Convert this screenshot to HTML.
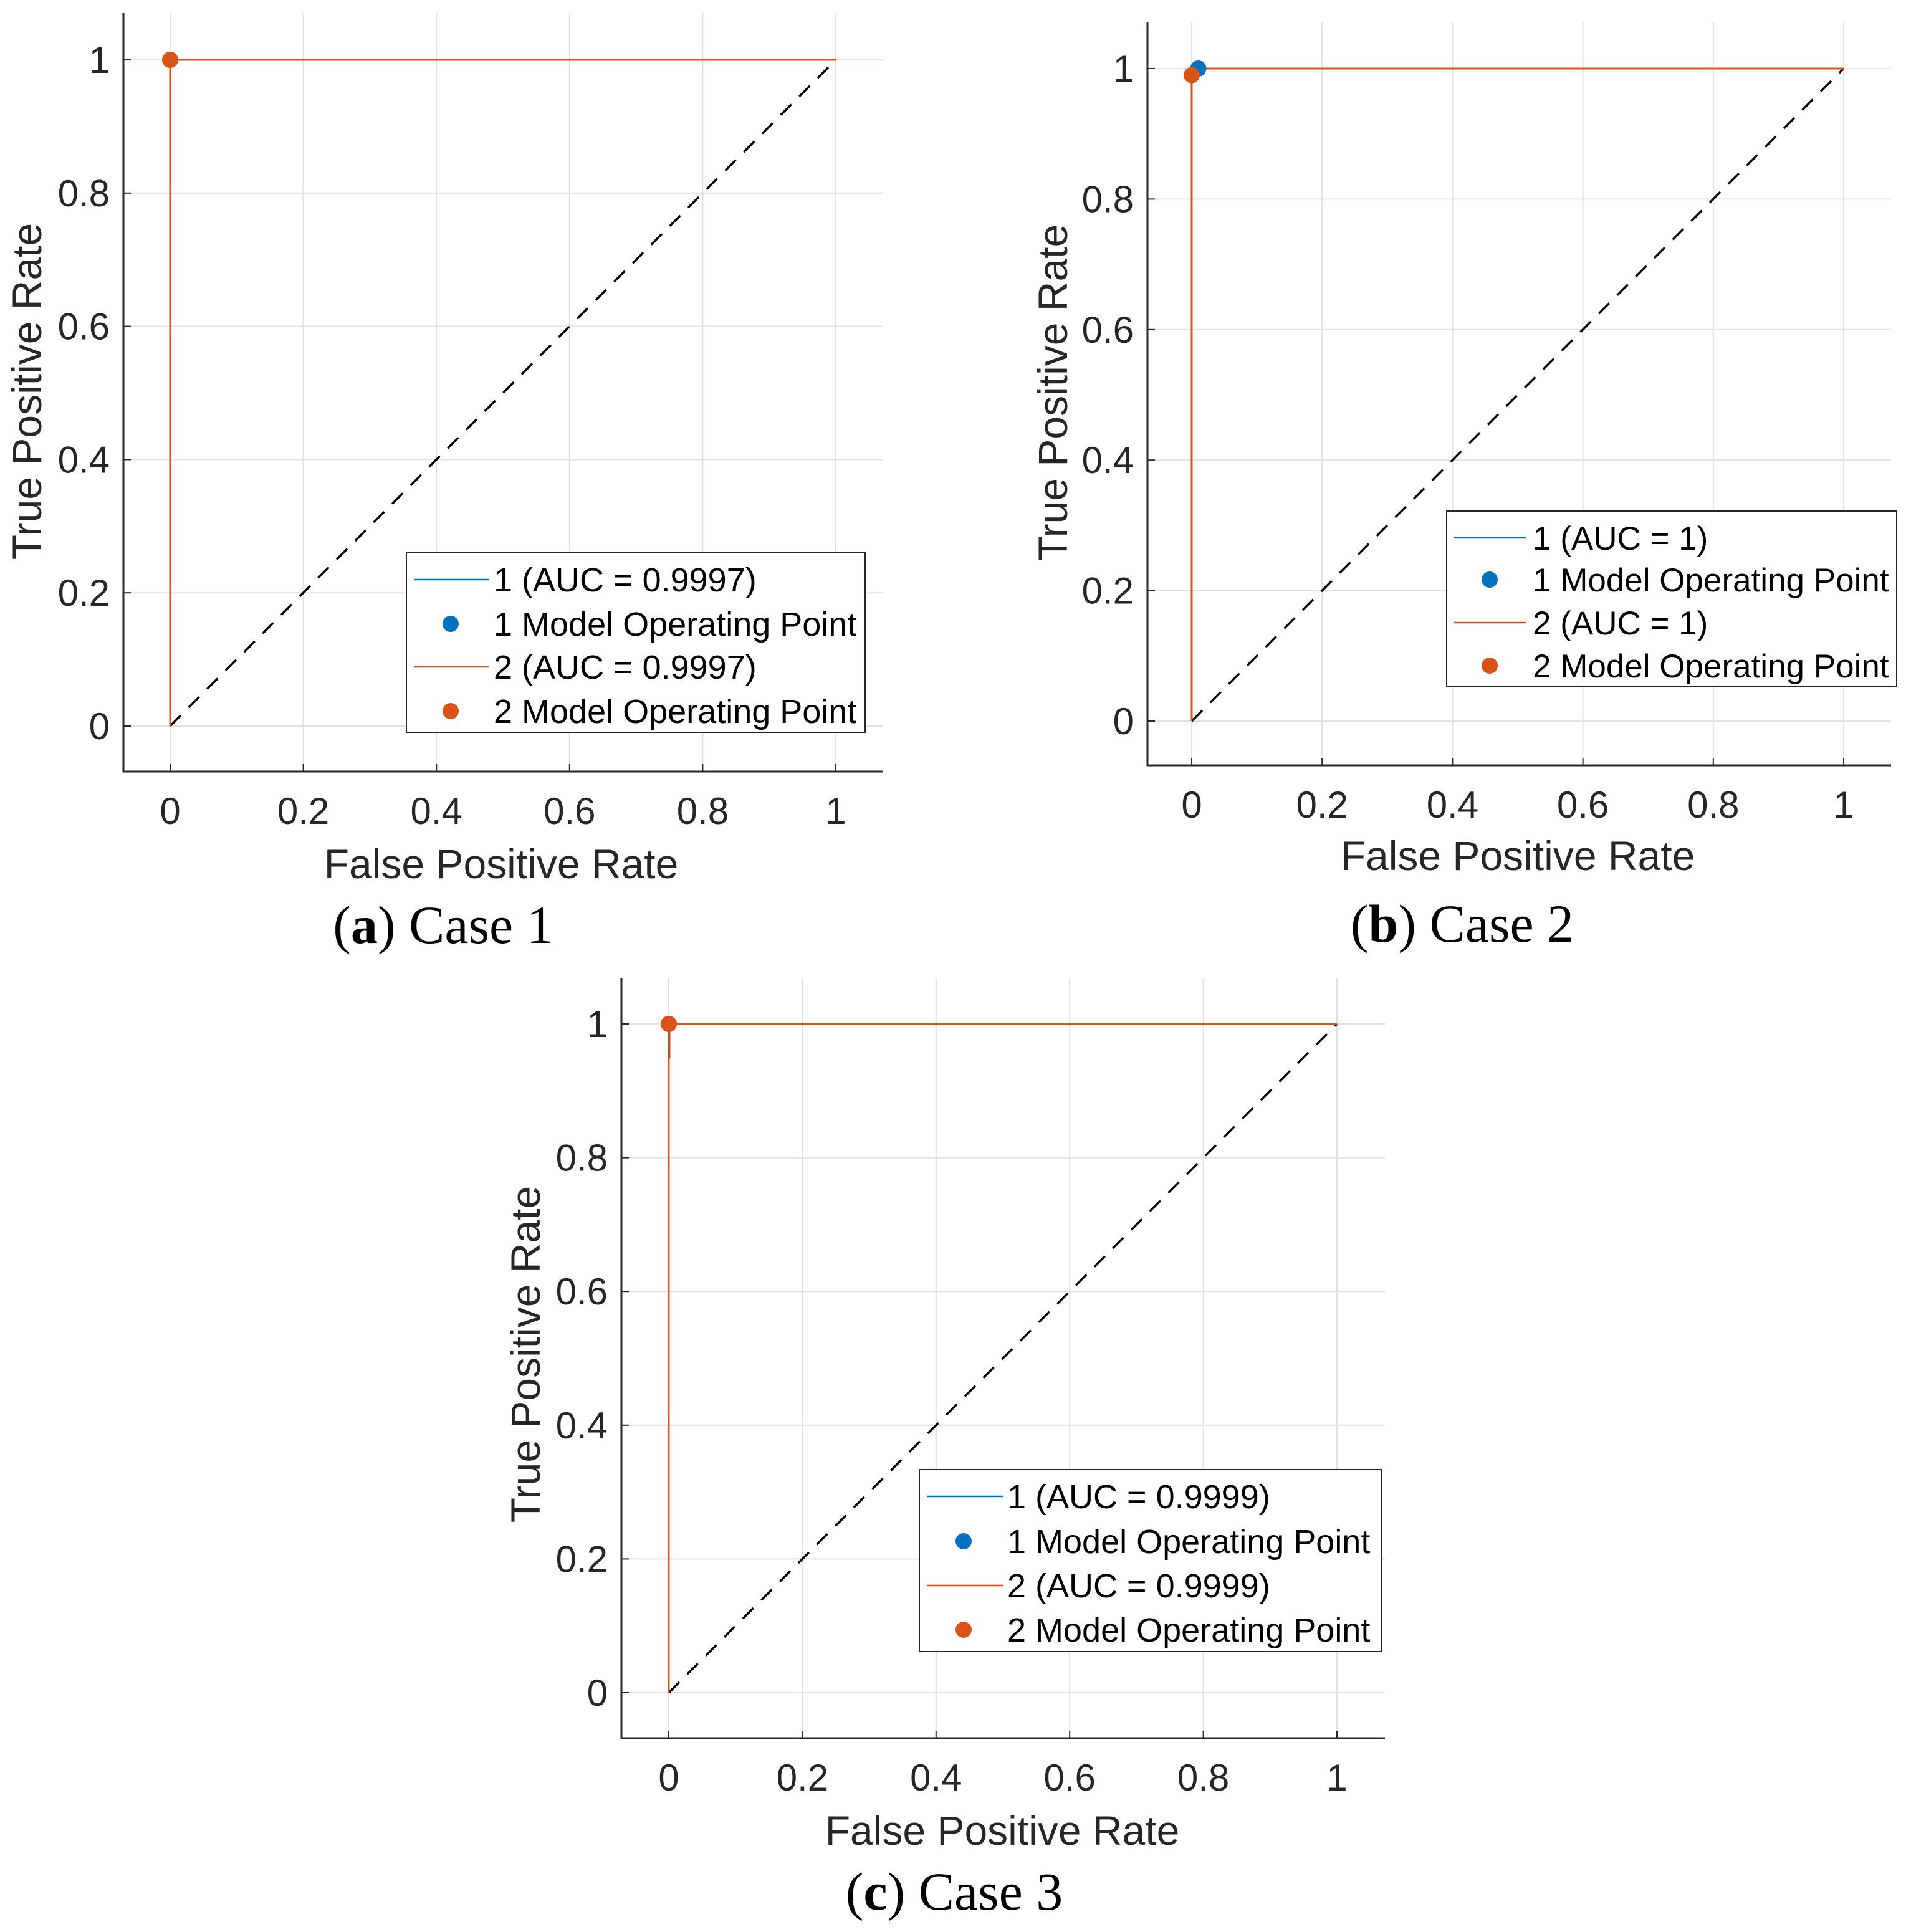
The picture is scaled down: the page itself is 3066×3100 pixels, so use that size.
<!DOCTYPE html>
<html><head><meta charset="utf-8"><style>
html,body{margin:0;padding:0;background:#fff;}
svg{display:block;}
</style></head><body>
<svg id="fig" width="3066" height="3100" viewBox="0 0 3066 3100" xmlns="http://www.w3.org/2000/svg"></svg>
<script>
// ---- data ----
const tickValues = [0, 0.2, 0.4, 0.6, 0.8, 1];
const tickLabels = ["0", "0.2", "0.4", "0.6", "0.8", "1"];
const caseNames = ["a", "b", "c"];
const caseTitles = ["Case 1", "Case 2", "Case 3"];
const aucLabels1 = ["0.9997", "1", "0.9999"];
const aucLabels2 = ["0.9997", "1", "0.9999"];
// ROC curves (fpr, tpr) per case
const rocA1x = [0, 0, 0.32, 1], rocA1y = [0, 1, 1, 1];
const rocA2x = [0, 0, 1], rocA2y = [0, 1, 1];
const rocB1x = [0, 0, 1], rocB1y = [0, 1, 1];
const rocB2x = [0, 0, 1], rocB2y = [0, 1, 1];
const rocC1x = [0, 0, 1], rocC1y = [0, 1, 1];
const rocC2x = [0, 0, 0.001, 0.001, 1], rocC2y = [0, 0.95, 0.95, 1, 1];
// operating points [fpr, tpr]
const op1 = [[0, 1], [0.01, 1], [0, 1]];
const op2 = [[0, 1], [0, 0.99], [0, 1]];

// ---- layout ----
const layouts = [
 {L:198,R:1416,T:21,B:1238,x0:273,x1:1341,y0:1165,y1:96,
  leg:[652,887,1388,1175],rows:[930,1001,1070,1141],lx:[664,784],tx:792,mx:723,lfs:54,
  xl:[804,1386],yl:[43,628],cap:[711,1485]},
 {L:1841,R:3034,T:36,B:1228,x0:1912,x1:2958,y0:1157,y1:110,
  leg:[2321,820,3043,1102],rows:[863,930,999,1068],lx:[2332,2449],tx:2459,mx:2390,lfs:53,
  xl:[2435,1373],yl:[1689,630],cap:[2346,1483]},
 {L:997,R:2222,T:1570,B:2789,x0:1073,x1:2145,y0:2716,y1:1643,
  leg:[1475,2358,2216,2650],rows:[2401,2473,2544,2615],lx:[1487,1610],tx:1616,mx:1546,lfs:54,
  xl:[1608,2937],yl:[843,2173],cap:[1531,3036]}
];
const rocs = [[rocA1x,rocA1y,rocA2x,rocA2y],[rocB1x,rocB1y,rocB2x,rocB2y],[rocC1x,rocC1y,rocC2x,rocC2y]];
const BLUE="#0072BD", ORANGE="#D95319", NS="http://www.w3.org/2000/svg";
const svg=document.getElementById('fig');
function mk(tag,attrs,parent,text){const e=document.createElementNS(NS,tag);for(const k in attrs)e.setAttribute(k,attrs[k]);if(text!==undefined)e.textContent=text;parent.appendChild(e);return e;}

layouts.forEach((c,i)=>{
  const sx=v=>c.x0+(c.x1-c.x0)*v, sy=v=>c.y0+(c.y1-c.y0)*v;
  const g=mk('g',{},svg);
  
  
  tickValues.forEach((t,k)=>{
    const gx=mk('line',{x1:sx(t),x2:sx(t),y1:c.T,y2:c.B,stroke:'#e1e1e1','stroke-width':2},g);
    
    
    const gy=mk('line',{x1:c.L,x2:c.R,y1:sy(t),y2:sy(t),stroke:'#e1e1e1','stroke-width':2},g);
    
    
    const xt=mk('text',{x:sx(t),y:c.B+84,'text-anchor':'middle','font-size':60,fill:'#262626','font-family':'Liberation Sans, sans-serif'},g,tickLabels[k]);
    
    
    const yt=mk('text',{x:c.L-22,y:sy(t)+21,'text-anchor':'end','font-size':60,fill:'#262626','font-family':'Liberation Sans, sans-serif'},g,tickLabels[k]);
    
    
    const tk=mk('line',{x1:sx(t),x2:sx(t),y1:c.B,y2:c.B-12,stroke:'#262626','stroke-width':2},g);
    
    
    const tky=mk('line',{x1:c.L,x2:c.L+12,y1:sy(t),y2:sy(t),stroke:'#262626','stroke-width':2},g);
    
    
  });
  const ax=mk('path',{d:`M${c.L},${c.T}V${c.B}H${c.R}`,fill:'none',stroke:'#262626','stroke-width':3},g);
  
  
  const dg=mk('line',{x1:sx(0),y1:sy(0),x2:sx(1),y2:sy(1),stroke:'#000','stroke-width':3.5,'stroke-dasharray':'24,18'},g);
  
  
  const r=rocs[i];
  const pts=(xs,ys)=>xs.map((x,k)=>sx(x)+','+sy(ys[k])).join(' ');
  const c1=mk('polyline',{points:pts(r[0],r[1]),fill:'none',stroke:BLUE,'stroke-width':3},g);
  
  
  const c2=mk('polyline',{points:pts(r[2],r[3]),fill:'none',stroke:ORANGE,'stroke-width':3},g);
  
  
  const p1=mk('circle',{cx:sx(op1[i][0]),cy:sy(op1[i][1]),r:13,fill:BLUE},g);
  
  
  const p2=mk('circle',{cx:sx(op2[i][0]),cy:sy(op2[i][1]),r:13,fill:ORANGE},g);
  
  
  const lg=mk('g',{},g);
  
  
  mk('rect',{x:c.leg[0],y:c.leg[1],width:c.leg[2]-c.leg[0],height:c.leg[3]-c.leg[1],fill:'#fff',stroke:'#262626','stroke-width':2},lg);
  const labels=[`1 (AUC = ${aucLabels1[i]})`,'1 Model Operating Point',`2 (AUC = ${aucLabels2[i]})`,'2 Model Operating Point'];
  const cols=[BLUE,BLUE,ORANGE,ORANGE];
  labels.forEach((lab,k)=>{
    const y=c.rows[k];
    if(k%2===0) mk('line',{x1:c.lx[0],x2:c.lx[1],y1:y,y2:y,stroke:cols[k],'stroke-width':2.5},lg);
    else mk('circle',{cx:c.mx,cy:y,r:13,fill:cols[k]},lg);
    const t=mk('text',{x:c.tx,y:y+19,'font-size':c.lfs,fill:'#000','font-family':'Liberation Sans, sans-serif'},lg,lab);
    
    
  });
  const xl=mk('text',{x:c.xl[0],y:c.xl[1]+23,'text-anchor':'middle','font-size':66,fill:'#262626','font-family':'Liberation Sans, sans-serif'},g,'False Positive Rate');
  
  
  const yl=mk('text',{x:0,y:0,transform:`translate(${c.yl[0]+23},${c.yl[1]}) rotate(-90)`,'text-anchor':'middle','font-size':66,fill:'#262626','font-family':'Liberation Sans, sans-serif'},g,'True Positive Rate');
  
  
  const cap=mk('text',{x:c.cap[0],y:c.cap[1]+28,'text-anchor':'middle','font-size':86,fill:'#000','font-family':'Liberation Serif, serif'},g);
  
  
  mk('tspan',{},cap,'(');
  mk('tspan',{'font-weight':'bold'},cap,caseNames[i]);
  mk('tspan',{},cap,') '+caseTitles[i]);
});
</script>
</body></html>
